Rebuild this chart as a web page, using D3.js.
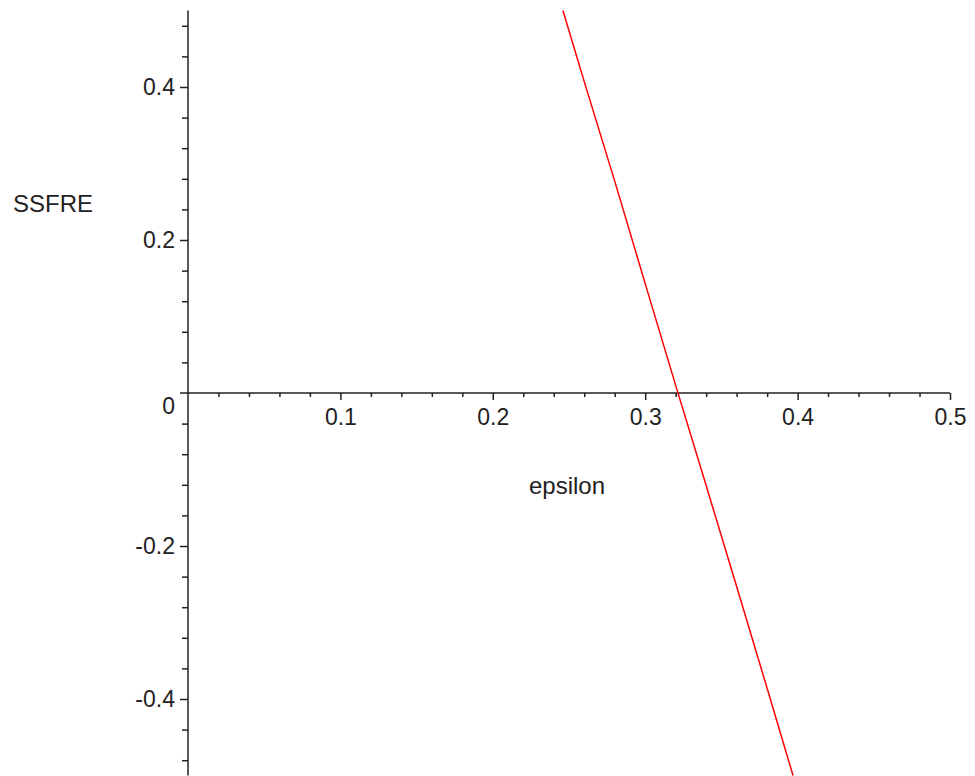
<!DOCTYPE html>
<html>
<head>
  <meta charset="utf-8">
  <title>SSFRE vs epsilon</title>
  <script src="https://d3js.org/d3.v7.min.js"></script>
  <style>
    body { margin: 0; background: #fff; }
    text { font-family: "Liberation Sans", Arial, sans-serif; fill: #222; }
  </style>
</head>
<body>
<script>
// curve
var epsilon = [0.246, 0.26, 0.28, 0.30, 0.32, 0.34, 0.36, 0.38, 0.397];
var ssfre   = [0.500, 0.407, 0.277, 0.143, 0.010, -0.121, -0.253, -0.386, -0.500];

var xMajor = [0.1, 0.2, 0.3, 0.4, 0.5];
var yMajor = [-0.4, -0.2, 0.2, 0.4];
var xTitle = 'epsilon';
var yTitle = 'SSFRE';

var width = 975, height = 776;

var svg = d3.select('body').append('svg')
  .attr('width', width).attr('height', height);

var x = d3.scaleLinear().domain([0, 0.5]).range([188, 950]);
var y = d3.scaleLinear().domain([-0.5, 0.5]).range([775.5, 10.5]);

var xMinor = d3.range(1, 25).map(function(i) { return i * 0.02; })
  .filter(function(v) { return Math.abs(v * 10 - Math.round(v * 10)) > 1e-6; });
var yMinor = d3.range(-12, 13).map(function(i) { return i * 0.04; })
  .filter(function(v) { return Math.abs(v) > 1e-6 && Math.abs(v * 5 - Math.round(v * 5)) > 1e-6; });

// plain hyphen for negatives, like the original
var fmt = function(d) { return d3.format('.1f')(d).replace('\u2212', '-'); };

function styleAxis(g) {
  g.select('.domain').remove();
  g.selectAll('line').attr('stroke', '#222').attr('stroke-width', 1.5);
  g.selectAll('text').attr('font-size', 23).attr('fill', '#222')
    .attr('font-family', '"Liberation Sans", Arial, sans-serif');
}

// x axis: minor then major ticks
svg.append('g').attr('transform', 'translate(0,' + y(0) + ')')
  .call(d3.axisBottom(x).tickValues(xMinor).tickSize(4).tickFormat(''))
  .call(styleAxis);
svg.append('g').attr('transform', 'translate(0,' + y(0) + ')')
  .call(d3.axisBottom(x).tickValues(xMajor).tickSize(7).tickPadding(9)
    .tickFormat(fmt))
  .call(styleAxis);

// y axis
svg.append('g').attr('transform', 'translate(' + x(0) + ',0)')
  .call(d3.axisLeft(y).tickValues(yMinor).tickSize(6).tickFormat(''))
  .call(styleAxis);
svg.append('g').attr('transform', 'translate(' + x(0) + ',0)')
  .call(d3.axisLeft(y).tickValues(yMajor).tickSize(8).tickPadding(5)
    .tickFormat(fmt))
  .call(styleAxis);

// axis lines
svg.append('line')
  .attr('x1', x(0) - 8).attr('x2', x(0.5))
  .attr('y1', y(0)).attr('y2', y(0))
  .attr('stroke', '#222').attr('stroke-width', 1.5);
svg.append('line')
  .attr('x1', x(0)).attr('x2', x(0))
  .attr('y1', y(0.5)).attr('y2', y(-0.5))
  .attr('stroke', '#222').attr('stroke-width', 1.5);

// origin label
svg.append('text')
  .attr('x', x(0) - 13).attr('y', y(0) + 21)
  .attr('text-anchor', 'end').attr('font-size', 23)
  .text('0');

// curve
var line = d3.line()
  .x(function(d, i) { return x(epsilon[i]); })
  .y(function(d) { return y(d); });
svg.append('path')
  .datum(ssfre)
  .attr('d', line)
  .attr('fill', 'none')
  .attr('stroke', '#ff0000')
  .attr('stroke-width', 1.5);

// titles
svg.append('text')
  .attr('x', 13).attr('y', 212)
  .attr('font-size', 24)
  .text(yTitle);
svg.append('text')
  .attr('x', 567).attr('y', 494)
  .attr('text-anchor', 'middle').attr('font-size', 24)
  .text(xTitle);
</script>
</body>
</html>
